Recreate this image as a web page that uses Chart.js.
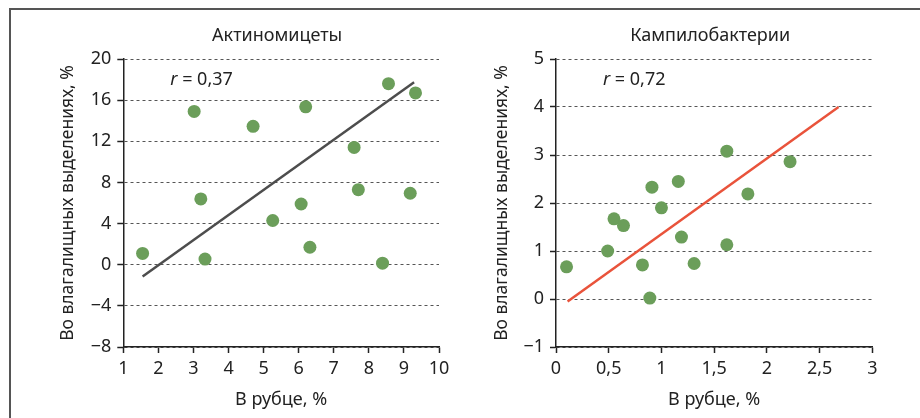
<!DOCTYPE html>
<html>
<head>
<meta charset="utf-8">
<script src="https://cdn.jsdelivr.net/npm/chart.js@4"></script>
<style>
  body { margin: 0; background: #fff; width: 920px; height: 418px; position: relative; overflow: hidden; }
  #frame { position: absolute; left: 9px; top: 8px; width: 911px; height: 410px; border-top: 2px solid #555; border-left: 2px solid #555; box-sizing: border-box; }
  .box { position: absolute; top: 0; width: 460px; height: 418px; }
</style>
</head>
<body>
<div id="frame"></div>
<div class="box" style="left:0"><canvas id="left"></canvas></div>
<div class="box" style="left:460px"><canvas id="right"></canvas></div>
<script>
const FONT = "'Noto Sans', sans-serif";

// Актиномицеты
const actX = [1.55, 3.02, 3.21, 3.33, 4.70, 5.26, 6.07, 6.20, 6.32, 7.58, 7.70, 8.39, 8.56, 9.18, 9.33];
const actY = [1.1, 14.9, 6.4, 0.55, 13.45, 4.3, 5.9, 15.35, 1.7, 11.4, 7.3, 0.15, 17.6, 6.95, 16.7];
const actLineX = [1.55, 9.29];
const actLineY = [-1.15, 17.75];
const actR = "0,37";

// Кампилобактерии
const campX = [0.10, 0.49, 0.55, 0.64, 0.82, 0.89, 0.91, 1.00, 1.16, 1.19, 1.31, 1.62, 1.62, 1.82, 2.22];
const campY = [0.67, 1.0, 1.67, 1.53, 0.71, 0.02, 2.33, 1.9, 2.45, 1.29, 0.74, 3.08, 1.13, 2.19, 2.86];
const campLineX = [0.11, 2.68];
const campLineY = [-0.05, 4.0];
const campR = "0,72";

const fmt = v => (v < 0 ? "\u2212" + String(-v) : String(v)).replace(".", ",");

const labelPlugin = {
  id: "labels",
  afterDraw(chart) {
    const o = chart.options.plugins.labels;
    const a = chart.chartArea;
    const ctx = chart.ctx;
    ctx.save();
    ctx.fillStyle = "#222";
    ctx.textBaseline = "middle";
    ctx.font = "18px " + FONT;
    ctx.textAlign = "center";
    ctx.fillText(o.title, (a.left + a.right) / 2 - 4, a.top - 23);
    ctx.textAlign = "left";
    let x = a.left + 47;
    ctx.font = "italic 18px " + FONT;
    ctx.fillText("r", x, a.top + 21);
    x += ctx.measureText("r ").width;
    ctx.font = "18px " + FONT;
    ctx.fillText("= " + o.r, x, a.top + 21);
    ctx.restore();
  }
};

function makeChart(id, cfg) {
  const pts = cfg.xs.map((x, i) => ({ x: x, y: cfg.ys[i] }));
  const line = cfg.lx.map((x, i) => ({ x: x, y: cfg.ly[i] }));
  return new Chart(document.getElementById(id), {
    type: "scatter",
    data: {
      datasets: [
        {
          data: pts,
          backgroundColor: "#6b9e5a",
          borderWidth: 0,
          pointRadius: 6.5
        },
        {
          data: line,
          showLine: true,
          borderColor: cfg.lineColor,
          borderWidth: 2.5,
          pointRadius: 0
        }
      ]
    },
    options: {
      responsive: true,
      maintainAspectRatio: false,
      animation: false,
      layout: { padding: { left: cfg.padLeft, top: 59, right: cfg.padRight, bottom: 0 } },
      plugins: {
        legend: { display: false },
        tooltip: { enabled: false },
        labels: { title: cfg.title, r: cfg.r }
      },
      scales: {
        x: {
          type: "linear",
          min: cfg.xMin, max: cfg.xMax,
          afterFit: s => { s.height = 71; },
          ticks: { stepSize: cfg.xStep, color: "#222", font: { family: FONT, size: 18 }, padding: 5, callback: fmt },
          grid: { drawOnChartArea: false, tickLength: 6, tickColor: "#222", tickWidth: 1.5 },
          border: { color: "#222", width: 1.5 },
          title: { display: true, text: "В рубце, %", color: "#222", font: { family: FONT, size: 18 }, padding: { top: 0, bottom: 7 } }
        },
        y: {
          min: cfg.yMin, max: cfg.yMax,
          afterFit: s => { s.width = cfg.yWidth; },
          ticks: { stepSize: cfg.yStep, color: "#222", font: { family: FONT, size: 18 }, padding: 6, callback: fmt },
          grid: {
            color: "#555", lineWidth: 1,
            tickLength: 6, tickColor: "#222", tickWidth: 1.5, tickBorderDash: []
          },
          border: { color: "#222", width: 1.5, dash: [3, 3] },
          title: { display: true, text: "Во влагалищных выделениях, %", color: "#222", font: { family: FONT, size: 17.5 }, padding: { top: cfg.yTitlePad, bottom: 0 } }
        }
      }
    },
    plugins: [labelPlugin]
  });
}

makeChart("left", {
  xs: actX, ys: actY, lx: actLineX, ly: actLineY, r: actR,
  title: "Актиномицеты", lineColor: "#4d4d4d",
  xMin: 1, xMax: 10, xStep: 1, yMin: -8, yMax: 20, yStep: 4,
  padLeft: 10, padRight: 21, yWidth: 113.3, yTitlePad: 47.5
});

makeChart("right", {
  xs: campX, ys: campY, lx: campLineX, ly: campLineY, r: campR,
  title: "Кампилобактерии", lineColor: "#e9533b",
  xMin: 0, xMax: 3, xStep: 0.5, yMin: -1, yMax: 5, yStep: 1,
  padLeft: 0, padRight: 47.7, yWidth: 96, yTitlePad: 31.5
});
</script>
</body>
</html>
